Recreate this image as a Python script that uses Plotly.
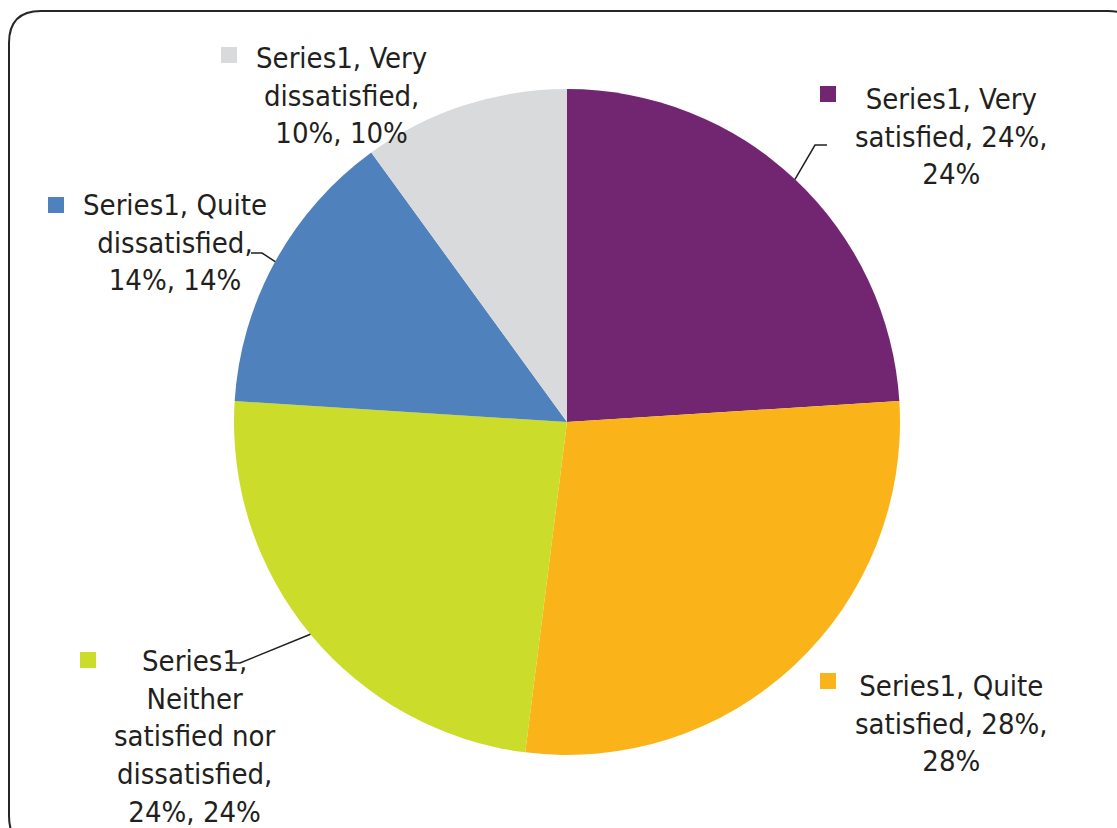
import math
import textwrap
import plotly.graph_objects as go

# ---- data ----
series_name = "Series1"
categories = ["Very satisfied", "Quite satisfied", "Neither satisfied nor dissatisfied",
              "Quite dissatisfied", "Very dissatisfied"]
values = [24, 28, 24, 14, 10]
colors = ["#722672", "#FAB41A", "#CBDC2A", "#4F81BD", "#D9DADC"]

# ---- layout constants (pixels) ----
W, H = 1117, 828
CX, CY, R = 567, 422, 333
FONT = "DejaVu Sans Condensed, Tahoma, DejaVu Sans, sans-serif"
FS = 29
TXT = "#231f20"

# label block centres, marker squares (x0, y0), leader line elbows
label_pos = [(952, 136), (952, 723), (195, 736), (175, 243), (341, 96)]
marker_pos = [(820, 86), (820, 673), (80, 652), (48, 197), (221, 47)]
leader = {0: [(815, 145), (827, 145)],
          2: [(240, 663), (226, 663)],
          3: [(262, 253), (251, 253)]}


def px(x):
    return x / W


def py(y):
    return 1 - y / H


fig = go.Figure(go.Pie(
    labels=categories, values=values, sort=False, direction="clockwise", rotation=0,
    marker=dict(colors=colors, line=dict(width=0)),
    textinfo="none", hoverinfo="label+percent", showlegend=False,
    domain=dict(x=[px(CX - R), px(CX + R)], y=[py(CY + R), py(CY - R)]),
))

shapes = []
annotations = []
total = sum(values)
cum = 0
for i, (cat, v) in enumerate(zip(categories, values)):
    mid = (cum + v / 2) / total * 2 * math.pi
    cum += v
    pct = round(v / total * 100)
    text = f"{series_name}, {cat}, {pct}%, {v}%"
    lines = textwrap.wrap(text, width=15, break_long_words=False)
    lx, ly = label_pos[i]
    annotations.append(dict(
        x=px(lx), y=py(ly), xref="paper", yref="paper", xanchor="center", yanchor="middle",
        text="<br>".join(lines), showarrow=False, align="center",
        font=dict(family=FONT, size=FS, color=TXT)))
    mx, my = marker_pos[i]
    shapes.append(dict(type="rect", xref="paper", yref="paper",
                       x0=px(mx), x1=px(mx + 16), y0=py(my), y1=py(my + 16),
                       fillcolor=colors[i], line=dict(width=0)))
    if i in leader:
        sx = CX + R * math.sin(mid)
        sy = CY - R * math.cos(mid)
        pts = [(sx, sy)] + leader[i]
        path = "M " + " L ".join(f"{px(a):.5f},{py(b):.5f}" for a, b in pts)
        shapes.append(dict(type="path", xref="paper", yref="paper", path=path,
                           line=dict(color=TXT, width=1.5)))

# rounded outer frame
x0, y0, x1, y1, rr = 9, 11, 1140, 848, 32
frame = (f"M {px(x0 + rr)},{py(y0)} L {px(x1 - rr)},{py(y0)} Q {px(x1)},{py(y0)} {px(x1)},{py(y0 + rr)} "
         f"L {px(x1)},{py(y1 - rr)} Q {px(x1)},{py(y1)} {px(x1 - rr)},{py(y1)} "
         f"L {px(x0 + rr)},{py(y1)} Q {px(x0)},{py(y1)} {px(x0)},{py(y1 - rr)} "
         f"L {px(x0)},{py(y0 + rr)} Q {px(x0)},{py(y0)} {px(x0 + rr)},{py(y0)} Z")
shapes.append(dict(type="path", xref="paper", yref="paper", path=frame,
                   line=dict(color="#262626", width=2), fillcolor="rgba(0,0,0,0)"))

fig.update_layout(
    width=W, height=H, margin=dict(l=0, r=0, t=0, b=0),
    paper_bgcolor="white", plot_bgcolor="white",
    shapes=shapes, annotations=annotations,
)
fig.write_html("out.html", config={"displayModeBar": False},
               post_script="document.body.style.margin='0';document.body.style.overflow='hidden';")
